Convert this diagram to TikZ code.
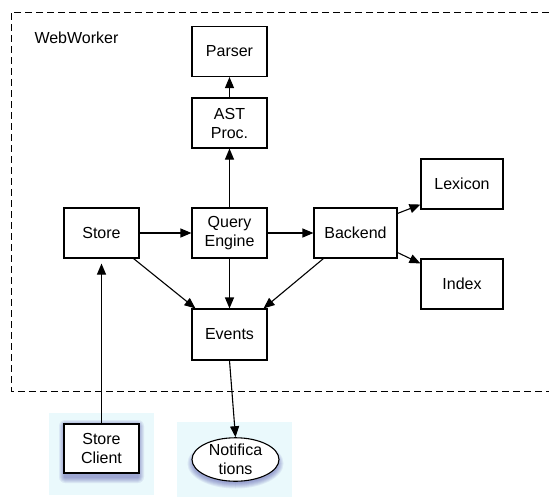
\documentclass[tikz,border=0pt]{standalone}
\usepackage{fontspec}
\setmainfont{Liberation Sans}
\usetikzlibrary{arrows.meta,shapes.geometric}
\definecolor{bgblue}{RGB}{234,249,252}
\definecolor{shblue}{RGB}{40,40,150}
\tikzset{
  box/.style={draw, line width=1.1pt, fill=white, minimum width=75pt, minimum height=50pt, inner sep=0pt, align=center, font=\fontsize{16}{19}\selectfont},
  arr/.style={line width=1.1pt, -{Triangle[length=11pt,width=9pt]}},
  frame/.style={line width=1pt, dash pattern=on 7pt off 4pt},
  shlayer/.style={fill=shblue, fill opacity=0.08},
}
\begin{document}
\begin{tikzpicture}[x=1pt,y=-1pt]
\useasboundingbox (0,0) rectangle (549,499);
\fill[white] (0,0) rectangle (549,499);
% dashed WebWorker frame
\draw[frame] (549,12) -- (11,12) -- (11,391) -- (549,391);
\node[anchor=west, font=\fontsize{16}{19}\selectfont] (ww) at (31,38) {WebWorker};
% light backgrounds
\fill[bgblue] (49,413) rectangle (154,495);
\fill[bgblue] (177,422) rectangle (292,497);
% shadows
\foreach \r in {1,2,...,6} {
  \fill[shlayer, rounded corners=\r pt] (65-\r,426-\r) rectangle (138+\r,477+\r);
  \fill[shlayer] (235.5,463.5) ellipse ({42+\r} and {19+\r});
}
% nodes
\node[box] (parser) at (229.5,51.5) {Parser};
\node[box] (ast) at (229.5,123) {AST\\Proc.};
\node[box] (store) at (101.5,233) {Store};
\node[box] (qe) at (229.5,233) {Query\\Engine};
\node[box, minimum width=83pt] (backend) at (355.5,233) {Backend};
\node[box, minimum width=82pt] (lexicon) at (462,184) {Lexicon};
\node[box, minimum width=82pt] (index) at (462,284) {Index};
\node[box, minimum height=51pt] (events) at (229.5,334.5) {Events};
\node[box, minimum height=49pt] (client) at (101.5,448.5) {Store\\Client};
\node[draw, line width=1.1pt, fill=white, ellipse, minimum width=87pt, minimum height=41pt, inner sep=0pt, align=center, font=\fontsize{16}{19}\selectfont] (notif) at (235.5,459.5) {Notifica\\tions};
% connectors
\draw[arr] (ast) -- (parser);
\draw[arr] (qe) -- (ast);
\draw[arr] (store) -- (qe);
\draw[arr] (qe) -- (backend);
\draw[arr] (qe) -- (events);
\draw[arr] ([xshift=-6pt]store.south east) -- ([xshift=4pt]events.north west);
\draw[arr] ([xshift=10pt]backend.south west) -- ([xshift=-4pt]events.north east);
\draw[arr] ([yshift=-6pt]backend.north east) -- ([yshift=5pt]lexicon.south west);
\draw[arr] ([yshift=6pt]backend.south east) -- ([yshift=-5pt]index.north west);
\draw[arr] (client) -- ([yshift=-5pt]store.south);
\draw[arr] (events.south) -- (notif.north);
\end{tikzpicture}
\end{document}
